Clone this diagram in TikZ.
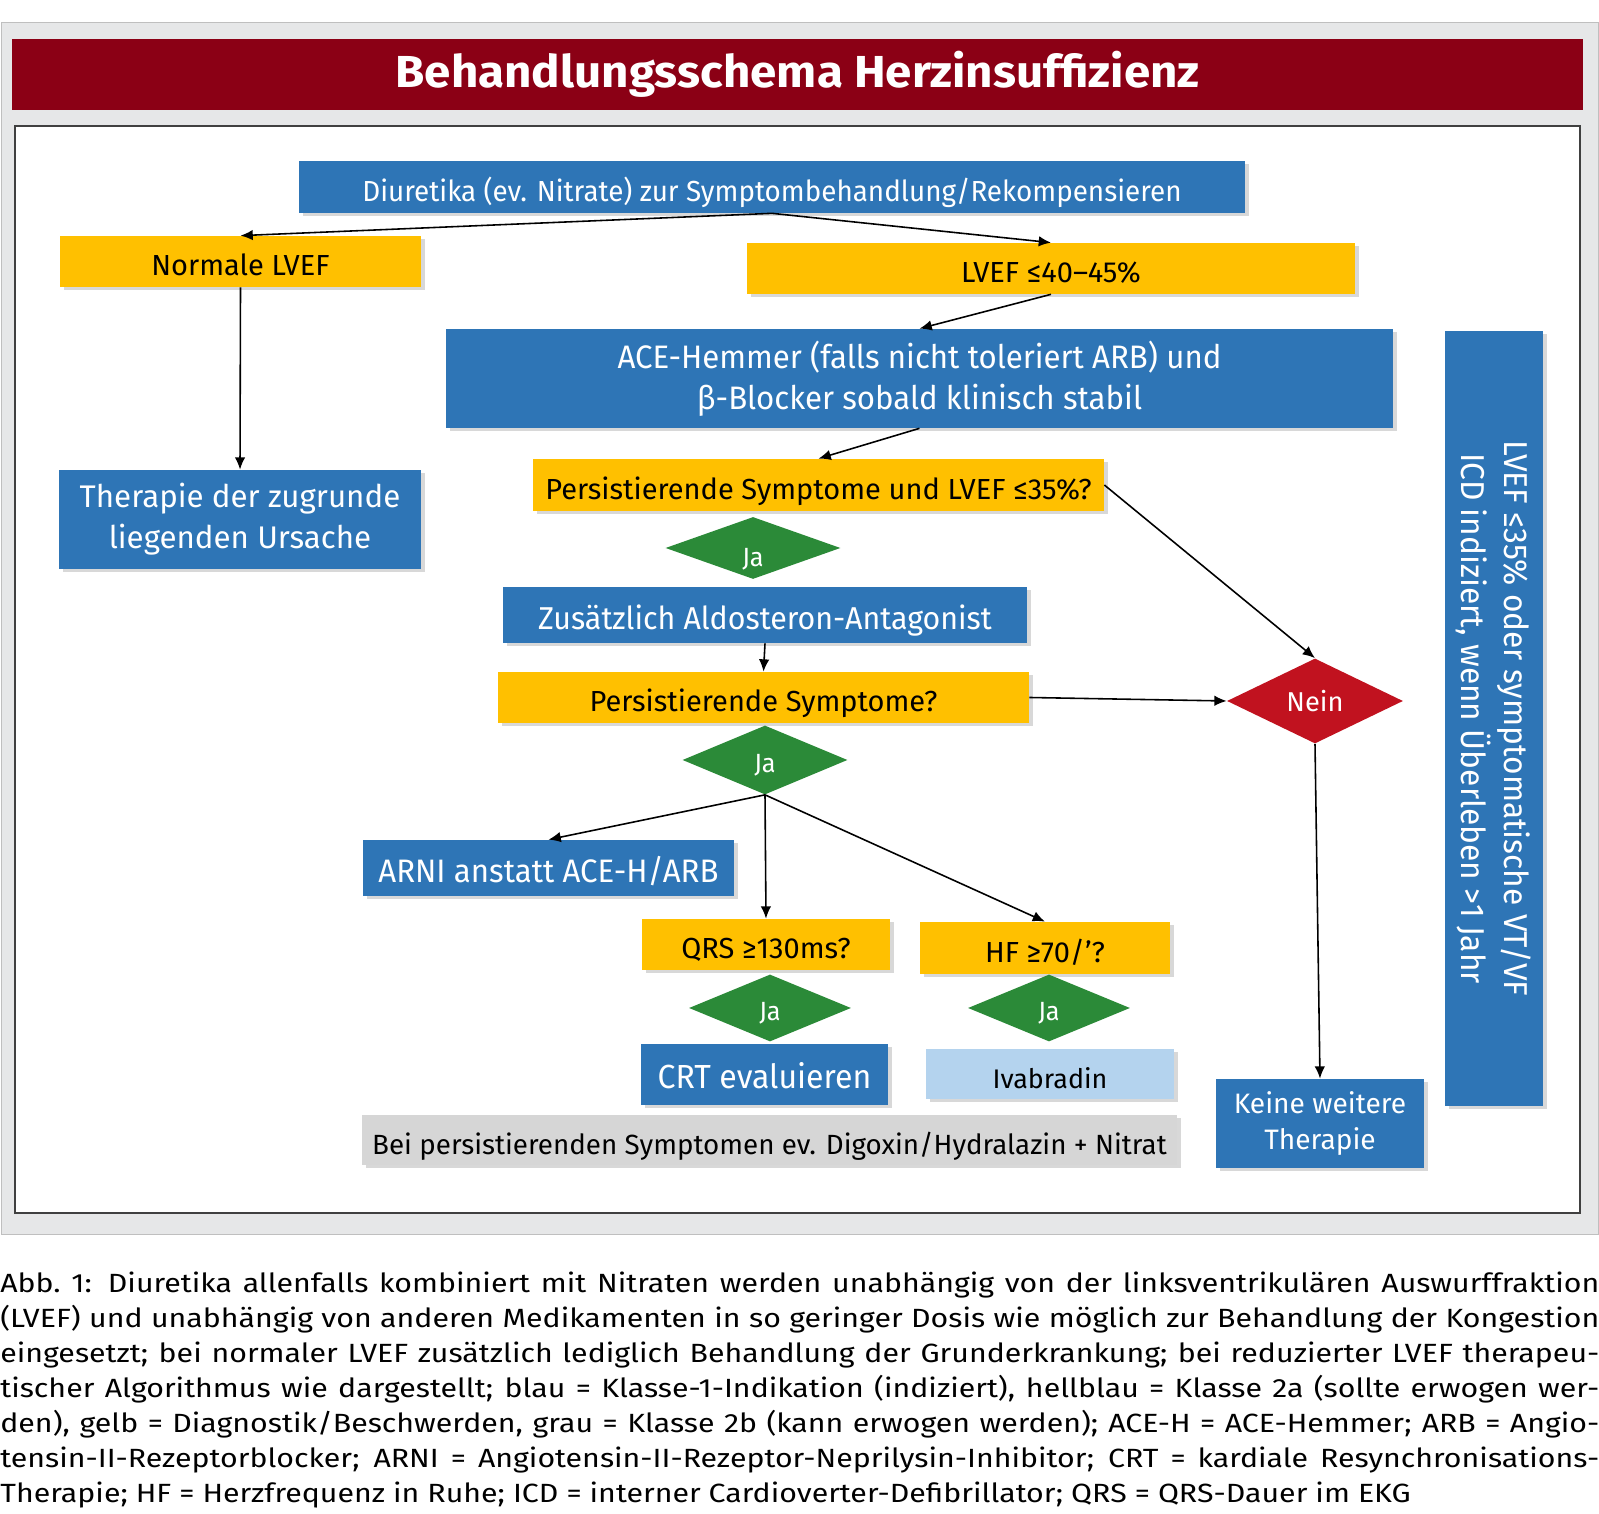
\documentclass[tikz,border=0pt]{standalone}
\usepackage{fontspec}
\setmainfont{Fira Sans}
\newfontfamily\boxfont[FakeStretch=0.96]{Fira Sans}
\newfontfamily\capfont[FakeStretch=1.15]{Fira Sans}
\newfontfamily\titlefont[FakeStretch=1.06]{Fira Sans}
\usetikzlibrary{arrows.meta}
\usetikzlibrary{positioning}
\usetikzlibrary{shapes.geometric, shadows}
\definecolor{hs-red}{HTML}{8B0015}
\definecolor{hs-blue}{HTML}{2E75B6}
\definecolor{hs-yellow}{HTML}{FFC000}
\definecolor{hs-green}{HTML}{2B8A38}
\definecolor{hs-alarm}{HTML}{C1121F}
\definecolor{hs-light}{HTML}{B4D3EE}
\definecolor{hs-grey}{HTML}{D6D6D6}
\definecolor{hs-frame}{HTML}{E6E7E8}

\begin{document}
\begin{tikzpicture}[
    >={Latex[length=7pt,width=6pt]},
    boxshadow/.style={drop shadow={shadow xshift=0.07cm, shadow yshift=-0.07cm, opacity=0.3}},
    oneline/.style={text height=20pt, text depth=4pt},
    treat/.style={boxshadow, fill=hs-blue, text=white, inner sep=0pt, align=center, font=\boxfont\fontsize{16.5}{23}\selectfont},
    query/.style={boxshadow, oneline, fill=hs-yellow, text=black, inner sep=0pt, align=center, font=\fontsize{16.5}{20}\selectfont},
    optbox/.style={boxshadow, oneline, fill=hs-light, text=black, inner sep=0pt, align=center, font=\fontsize{15.3}{20}\selectfont},
    weakbox/.style={boxshadow, oneline, fill=hs-grey, text=black, inner sep=0pt, align=center, font=\fontsize{15.8}{20}\selectfont},
    jadia/.style={diamond, fill=hs-green, text=white, inner sep=0pt, text height=14pt, text depth=0pt, minimum width=3.3cm, minimum height=1.34cm, font=\boxfont\fontsize{15}{18}\selectfont},
    neindia/.style={diamond, fill=hs-alarm, text=white, inner sep=0pt, minimum width=3.52cm, minimum height=1.7cm, font=\fontsize{15.5}{18}\selectfont},
    conn/.style={->, draw=black, line width=0.9pt}
]
\useasboundingbox (0,0) rectangle (31.98,30.28);

% =========================================================================
% RAHMEN UND TITEL
% =========================================================================
\draw[draw=black!25, fill=hs-frame] (0.02,5.60) rectangle (31.96,29.84);
\node[fill=hs-red, minimum width=31.42cm, minimum height=1.42cm, inner sep=0pt, text=white,
      font=\titlefont\bfseries\fontsize{25.5}{28}\selectfont] (title) at (15.95,28.79) {Behandlungsschema Herzinsuffizienz};
\draw[draw=black!75, line width=0.04cm, fill=white] (0.30,6.02) rectangle (31.60,27.76);

% =========================================================================
% OBERER TEIL: DIURETIKA UND LVEF
% =========================================================================
\node[treat, oneline, minimum width=18.92cm, minimum height=1.04cm] (diur) at (15.44,26.54)
    {Diuretika (ev. Nitrate) zur Symptombehandlung/Rekompensieren};
\node[query, minimum width=7.22cm, minimum height=1.02cm] (normal) at (4.81,25.05) {Normale LVEF};
\node[query, minimum width=12.16cm, minimum height=1.02cm] (lvef) at (21.02,24.91) {LVEF ≤40–45\%};
\node[treat, minimum width=18.94cm, minimum height=1.98cm, font=\boxfont\fontsize{18.5}{23.3}\selectfont] (ace) at (18.39,22.71)
    {ACE-Hemmer (falls nicht toleriert ARB) und\\β-Blocker sobald klinisch stabil};
\node[treat, minimum width=7.24cm, minimum height=1.98cm, font=\fontsize{17.8}{23.3}\selectfont] (cause) at (4.80,19.89)
    {Therapie der zugrunde\\liegenden Ursache};

\draw[conn] (diur.south) -- (normal.north);
\draw[conn] (diur.south) -- (lvef.north);
\draw[conn] (lvef.south) -- (ace.north);
\draw[conn] (normal.south) -- (cause.north);

% =========================================================================
% MITTLERER TEIL: PERSISTIERENDE SYMPTOME
% =========================================================================
\node[query, minimum width=11.42cm, minimum height=1.04cm] (pers35) at (16.37,20.58) {Persistierende Symptome und LVEF ≤35\%?};
\node[jadia, minimum width=3.5cm, minimum height=1.24cm, text height=21pt] (ja1) at (15.06,19.32) {Ja};
\node[treat, oneline, minimum width=10.48cm, minimum height=1.12cm, font=\boxfont\fontsize{18}{22}\selectfont] (aldo) at (15.30,17.98)
    {Zusätzlich Aldosteron-Antagonist};
\node[query, minimum width=10.62cm, minimum height=1.02cm] (persq) at (15.27,16.33) {Persistierende Symptome?};
\node[jadia, minimum width=3.3cm, minimum height=1.38cm] (ja2) at (15.30,15.08) {Ja};
\node[neindia] (nein) at (26.30,16.26) {Nein};

\draw[conn] (ace.south) -- (pers35.north);
\draw[conn] (pers35.east) -- (nein.north);
\draw[conn] (aldo.south) -- (persq.north);
\draw[conn] (persq.east) -- (nein.west);

% =========================================================================
% UNTERER TEIL: ARNI, CRT, IVABRADIN
% =========================================================================
\node[treat, oneline, minimum width=7.42cm, minimum height=1.12cm, font=\boxfont\fontsize{18.5}{22}\selectfont] (arni) at (10.97,12.92)
    {ARNI anstatt ACE-H/ARB};
\node[query, minimum width=4.96cm, minimum height=1.02cm] (qrs) at (15.32,11.39) {QRS ≥130ms?};
\node[query, minimum width=5.0cm, minimum height=1.04cm] (hf) at (20.90,11.32) {HF ≥70/’?};
\node[jadia, minimum width=3.24cm] (ja3) at (15.40,10.12) {Ja};
\node[jadia, minimum width=3.24cm] (ja4) at (20.98,10.12) {Ja};
\node[treat, oneline, minimum width=4.94cm, minimum height=1.22cm, font=\boxfont\fontsize{19}{22}\selectfont] (crt) at (15.29,8.79)
    {CRT evaluieren};
\node[optbox, minimum width=4.96cm, minimum height=1.0cm] (ivab) at (21.00,8.80) {Ivabradin};
\node[weakbox, minimum width=16.3cm, minimum height=1.0cm] (digox) at (15.39,7.48)
    {Bei persistierenden Symptomen ev. Digoxin/Hydralazin + Nitrat};
\node[treat, minimum width=4.16cm, minimum height=1.78cm, font=\fontsize{16}{20.9}\selectfont] (none) at (26.40,7.81)
    {Keine weitere\\Therapie};

\draw[conn] (ja2.south) -- (arni.north);
\draw[conn] (ja2.south) -- (qrs.north);
\draw[conn] (ja2.south) -- (hf.north);
\draw[conn] (nein.south) -- (none.north);

% =========================================================================
% ICD-HINWEIS (senkrecht, rechts)
% =========================================================================
\node[treat, rotate=-90, minimum width=15.5cm, minimum height=1.96cm, font=\boxfont\fontsize{18.8}{24.4}\selectfont] (icd) at (29.88,15.91)
    {LVEF ≤35\% oder symptomatische VT/VF\\ICD indiziert, wenn Überleben >1 Jahr};

% =========================================================================
% BILDUNTERSCHRIFT
% =========================================================================
\node[anchor=north west, inner sep=0pt, text width=31.98cm, align=justify,
      font=\capfont\fontsize{15}{19.9}\selectfont] (caption) at (0,4.84) {\hyphenpenalty=10000\exhyphenpenalty=10000
Abb.~1: Diuretika allenfalls kombiniert mit Nitraten werden unabhängig von der linksventrikulären Auswurffraktion\linebreak
(LVEF) und unabhängig von anderen Medikamenten in so geringer Dosis wie möglich zur Behandlung der Kongestion\linebreak
eingesetzt; bei normaler LVEF zusätzlich lediglich Behandlung der Grunderkrankung; bei reduzierter LVEF therapeu-\linebreak
tischer Algorithmus wie dargestellt; blau = Klasse-1-Indikation (indiziert), hellblau = Klasse 2a (sollte erwogen wer-\linebreak
den), gelb = Diagnostik/Beschwerden, grau = Klasse 2b (kann erwogen werden); ACE-H = ACE-Hemmer; ARB = Angio-\linebreak
tensin-II-Rezeptorblocker; ARNI = Angiotensin-II-Rezeptor-Neprilysin-Inhibitor; CRT = kardiale Resynchronisations-\linebreak
Therapie; HF = Herzfrequenz in Ruhe; ICD = interner Cardioverter-Defibrillator; QRS = QRS-Dauer im EKG};

\end{tikzpicture}
\end{document}
